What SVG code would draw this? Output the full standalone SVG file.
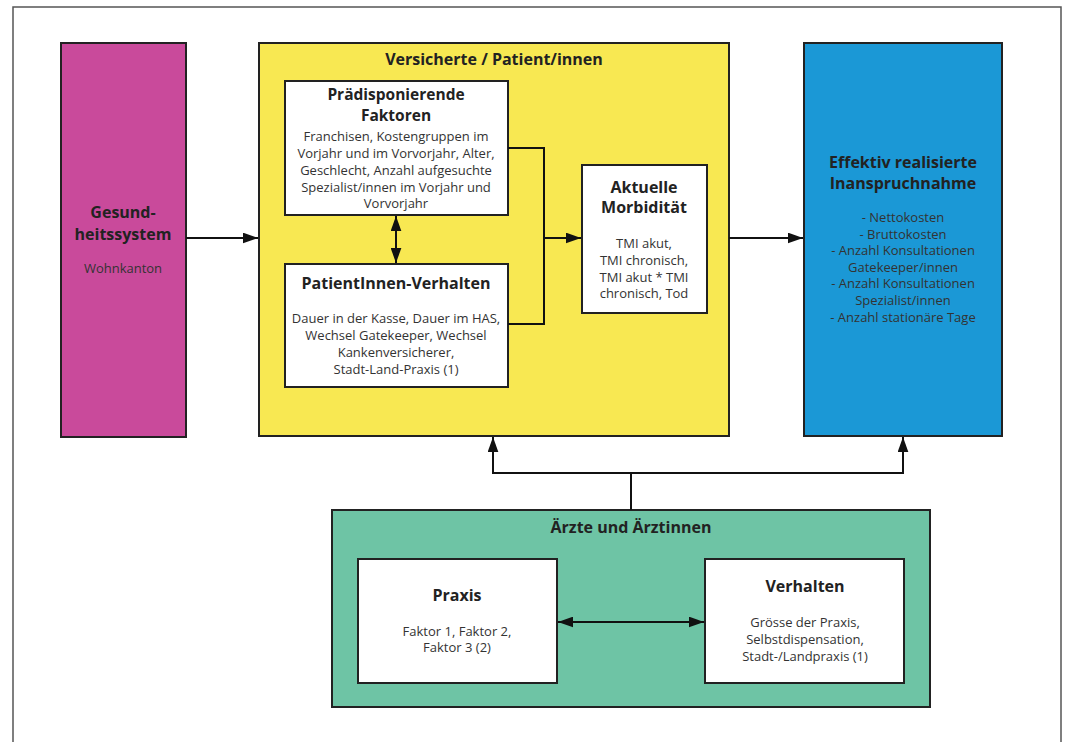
<svg xmlns="http://www.w3.org/2000/svg" width="1065" height="742" viewBox="0 0 1065 742">
<defs>
<marker id="ah" viewBox="0 0 14 10" refX="14" refY="5" markerWidth="7.5" markerHeight="5.5" orient="auto-start-reverse" markerUnits="strokeWidth">
<path d="M0,0 L14,5 L0,10 z" fill="#111"/>
</marker>
</defs>
<style>
text{font-family:"Open Sans","Noto Sans","Liberation Sans",sans-serif;fill:#222;text-anchor:middle}
.t{font-weight:bold;font-size:16px}
.b{font-size:13px;fill:#333}
.box{stroke:#222;stroke-width:2}
.w{fill:#fff;stroke:#222;stroke-width:2}
.c{fill:none;stroke:#111;stroke-width:2}
</style>
<rect width="1065" height="742" fill="#fff"/>
<path d="M13,742 V7 H1061 V742" fill="none" stroke="#555" stroke-width="1.5"/>

<g id="gesundheitssystem">
<rect class="box" x="61" y="43" width="125" height="394" fill="#C94A9B"/>
<text class="t" x="123" y="218">Gesund-</text>
<text class="t" x="123" y="240">heitssystem</text>
<text class="b" x="123" y="273">Wohnkanton</text>
</g>

<g id="versicherte">
<rect class="box" x="259" y="43" width="470" height="393" fill="#F8E852"/>
<text class="t" x="494" y="65">Versicherte / Patient/innen</text>
</g>

<g id="praedisponierende">
<rect class="w" x="285" y="81" width="223" height="134"/>
<text class="t" x="396" y="100" style="font-size:15.5px">Prädisponierende</text>
<text class="t" x="396" y="121" style="font-size:15.5px">Faktoren</text>
<text class="b" x="396" y="141">Franchisen, Kostengruppen im</text>
<text class="b" x="396" y="158">Vorjahr und im Vorvorjahr, Alter,</text>
<text class="b" x="396" y="175">Geschlecht, Anzahl aufgesuchte</text>
<text class="b" x="396" y="192">Spezialist/innen im Vorjahr und</text>
<text class="b" x="396" y="208">Vorvorjahr</text>
</g>

<g id="patientinnen-verhalten">
<rect class="w" x="285" y="264" width="223" height="123"/>
<text class="t" x="396" y="289">PatientInnen-Verhalten</text>
<text class="b" x="396" y="323">Dauer in der Kasse, Dauer im HAS,</text>
<text class="b" x="396" y="340">Wechsel Gatekeeper, Wechsel</text>
<text class="b" x="396" y="357">Kankenversicherer,</text>
<text class="b" x="396" y="374">Stadt-Land-Praxis (1)</text>
</g>

<g id="morbiditaet">
<rect class="w" x="582" y="165" width="125" height="148"/>
<text class="t" x="644" y="193">Aktuelle</text>
<text class="t" x="644" y="213">Morbidität</text>
<text class="b" x="644" y="248">TMI akut,</text>
<text class="b" x="644" y="265">TMI chronisch,</text>
<text class="b" x="644" y="282">TMI akut * TMI</text>
<text class="b" x="644" y="298">chronisch, Tod</text>
</g>

<g id="inanspruchnahme">
<rect class="box" x="804" y="43" width="198" height="393" fill="#1B98D6"/>
<text class="t" x="903" y="168">Effektiv realisierte</text>
<text class="t" x="903" y="189">Inanspruchnahme</text>
<text class="b" x="903" y="222">- Nettokosten</text>
<text class="b" x="903" y="239">- Bruttokosten</text>
<text class="b" x="903" y="255">- Anzahl Konsultationen</text>
<text class="b" x="903" y="272">Gatekeeper/innen</text>
<text class="b" x="903" y="288">- Anzahl Konsultationen</text>
<text class="b" x="903" y="305">Spezialist/innen</text>
<text class="b" x="903" y="322">- Anzahl stationäre Tage</text>
</g>

<g id="aerzte">
<rect class="box" x="332" y="510" width="598" height="197" fill="#6EC4A5"/>
<text class="t" x="631" y="533">Ärzte und Ärztinnen</text>
</g>

<g id="praxis">
<rect class="w" x="358" y="559" width="199" height="124"/>
<text class="t" x="457" y="601">Praxis</text>
<text class="b" x="457" y="636">Faktor 1, Faktor 2,</text>
<text class="b" x="457" y="652">Faktor 3 (2)</text>
</g>

<g id="verhalten">
<rect class="w" x="705" y="559" width="199" height="124"/>
<text class="t" x="805" y="592">Verhalten</text>
<text class="b" x="805" y="627">Grösse der Praxis,</text>
<text class="b" x="805" y="644">Selbstdispensation,</text>
<text class="b" x="805" y="661">Stadt-/Landpraxis (1)</text>
</g>

<g id="connectors">
<line class="c" x1="186" y1="238" x2="258" y2="238" marker-end="url(#ah)"/>
<line class="c" x1="396" y1="216" x2="396" y2="263" marker-start="url(#ah)" marker-end="url(#ah)"/>
<polyline class="c" points="508,148 544,148 544,324 508,324"/>
<line class="c" x1="544" y1="238" x2="581" y2="238" marker-end="url(#ah)"/>
<line class="c" x1="729" y1="238" x2="803" y2="238" marker-end="url(#ah)"/>
<line class="c" x1="631" y1="510" x2="631" y2="473"/>
<polyline class="c" points="493,437 493,473 903,473 903,437" marker-start="url(#ah)" marker-end="url(#ah)"/>
<line class="c" x1="558" y1="622" x2="704" y2="622" marker-start="url(#ah)" marker-end="url(#ah)"/>
</g>
</svg>
